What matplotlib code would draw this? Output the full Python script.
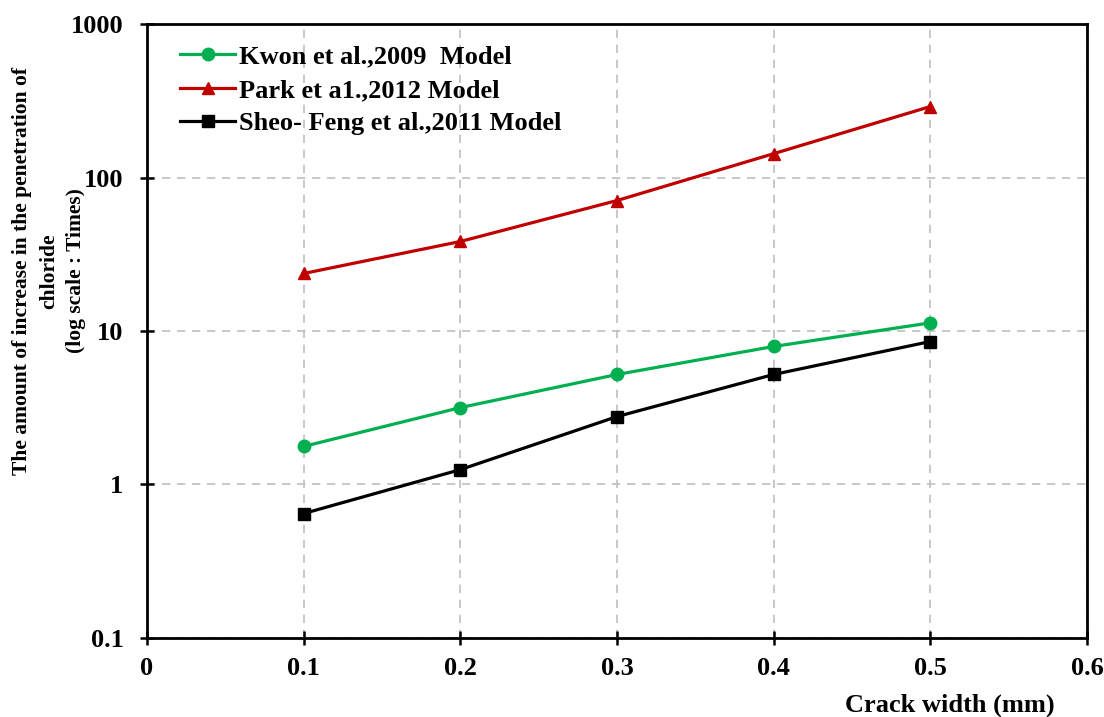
"""
裂缝宽度与氯离子渗透增加量（对数坐标）
"""
import matplotlib
matplotlib.use('Agg')
import matplotlib.pyplot as plt

plt.rcParams['font.family'] = ['Liberation Serif', 'DejaVu Serif']
plt.rcParams['font.weight'] = 'bold'

# 数据
crack_width = [0.1, 0.2, 0.3, 0.4, 0.5]
kwon = [1.77, 3.17, 5.21, 7.93, 11.3]
park = [23.7, 38.3, 70.8, 143, 290]
sheo = [0.647, 1.25, 2.77, 5.21, 8.54]

x_ticks = [0, 0.1, 0.2, 0.3, 0.4, 0.5, 0.6]
y_ticks = [0.1, 1, 10, 100, 1000]
y_tick_labels = ['0.1', '1', '10', '100', '1000']

fig = plt.figure(figsize=(11.04, 7.17), dpi=100)
ax = fig.add_axes([0.1332, 0.1102, 0.8514, 0.8563])

ax.plot(crack_width, kwon, color='#00B050', linewidth=2.3, marker='o',
        markersize=9, label='Kwon et al.,2009  Model')
ax.plot(crack_width, park, color='#C00000', linewidth=2.3, marker='^',
        markersize=9, label='Park et a1.,2012 Model')
ax.plot(crack_width, sheo, color='black', linewidth=2.3, marker='s',
        markersize=8, label='Sheo- Feng et al.,2011 Model')

ax.set_yscale('log')
ax.set_xlim(0, 0.6)
ax.set_ylim(0.1, 1000)
ax.set_xticks(x_ticks)
ax.set_xticklabels([f'{v:g}' for v in x_ticks])
ax.set_yticks(y_ticks)
ax.set_yticklabels(y_tick_labels)
ax.minorticks_off()
ax.tick_params(axis='both', direction='inout', length=10, width=1.8,
               labelsize=19)
ax.tick_params(axis='y', pad=12)
ax.tick_params(axis='x', pad=9)

for s in ax.spines.values():
    s.set_linewidth(2)

ax.grid(True, color='#BFBFBF', linestyle=(0, (5, 4)), linewidth=1.2)
ax.set_axisbelow(True)

# 坐标轴标题
fig.text(950 / 1104, 1 - 705 / 717, 'Crack width (mm)', ha='center', va='center',
         fontsize=19, fontweight='bold')
fig.text(49 / 1104, 1 - 271 / 717,
         'The amount of increase in the penetration of\nchloride\n(log scale : Times)',
         ha='center', va='center', rotation=90, fontsize=15.5, fontweight='bold',
         linespacing=1.45, multialignment='center')

ax.legend(loc='upper left', bbox_to_anchor=(0.035, 0.966), frameon=False,
          borderaxespad=0, borderpad=0, handlelength=2.1, handletextpad=0.15,
          labelspacing=0.38, prop={'weight': 'bold', 'size': 19})

plt.savefig('out.png', dpi=100)
plt.close()
